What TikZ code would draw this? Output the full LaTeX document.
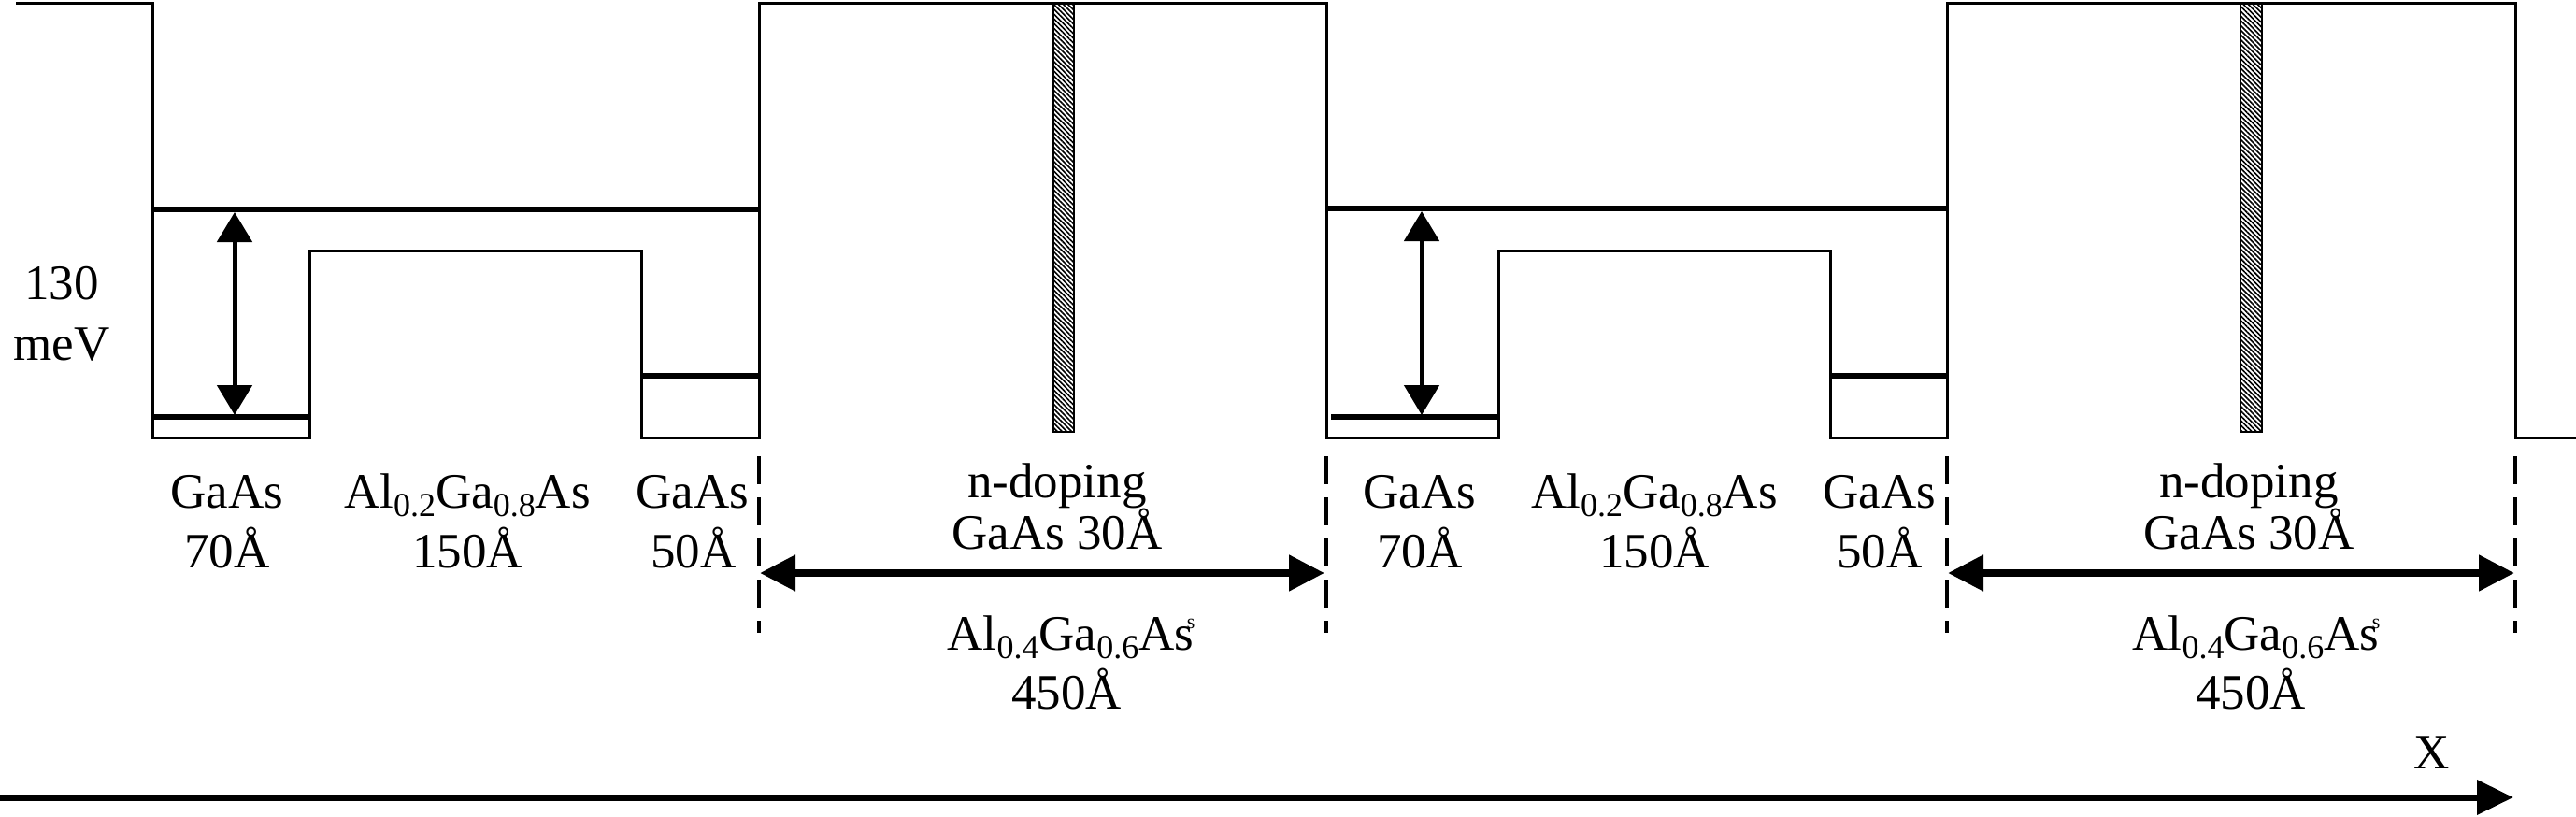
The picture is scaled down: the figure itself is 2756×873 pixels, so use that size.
\documentclass[tikz,border=0pt]{standalone}
\usepackage{fontspec}
\setmainfont{Liberation Serif}
\usetikzlibrary{arrows.meta,patterns.meta}
\newcommand{\sbs}[1]{\raisebox{-0.17em}{\fontsize{36}{36}\selectfont #1}}
\newcommand{\sps}{\kern-0.14em\raisebox{0.42em}{\fontsize{22}{22}\selectfont s}}
\begin{document}
\begin{tikzpicture}[x=1pt,y=-1pt,
  band/.style={line width=3pt, line join=miter},
  level/.style={line width=6.5pt},
  vdim/.style={line width=5pt,{Triangle[length=32pt,width=37pt]}-{Triangle[length=32pt,width=37pt]}},
  hdim/.style={line width=8pt,{Triangle[length=38pt,width=37pt]}-{Triangle[length=38pt,width=37pt]}},
  axis/.style={line width=7pt,-{Triangle[length=39pt,width=36pt]}},
  guide/.style={line width=4pt, dash pattern=on 30pt off 14pt},
  lbl/.style={font=\fontsize{53}{62}\selectfont, inner sep=0pt, anchor=base},
  dope/.style={draw, line width=2pt, pattern={Lines[angle=-45,distance=3.6pt,line width=1.6pt]}}
]
\useasboundingbox (0,0) rectangle (2756,873);

% conduction band profile
\draw[band] (17,3) -- (163.6,3) -- (163.6,468) -- (331,468) -- (331,268) -- (686,268)
  -- (686,468) -- (812,468) -- (812,3) -- (1419,3) -- (1419,468) -- (1603,468)
  -- (1603,268) -- (1958,268) -- (1958,468) -- (2083,468) -- (2083,3) -- (2691,3)
  -- (2691,468) -- (2756,468);

% delta doping layers
\draw[dope] (1127,3) rectangle (1149,462);
\draw[dope] (2397,3) rectangle (2420,462);

% subband levels
\draw[level] (163.6,224) -- (812,224);
\draw[level] (163.6,446) -- (331,446);
\draw[level] (686,402) -- (812,402);
\draw[level] (1419,223) -- (2083,223);
\draw[level] (1424,446) -- (1603,446);
\draw[level] (1958,402) -- (2083,402);

% 130 meV arrows
\coordinate (v1t) at (251,227);
\coordinate (v1b) at (251,444);
\coordinate (v2t) at (1521,226);
\coordinate (v2b) at (1521,444);
\draw[vdim] (v1t) -- (v1b);
\draw[vdim] (v2t) -- (v2b);

% dashed guides
\foreach \gx/\gn in {812/g1,1419/g2,2083/g3,2691/g4}{
  \coordinate (\gn t) at (\gx,488);
  \coordinate (\gn b) at (\gx,677);
  \draw[guide] (\gn t) -- (\gn b);
}

% barrier width arrows
\coordinate (h1l) at (813,613);
\coordinate (h1r) at (1417,613);
\coordinate (h2l) at (2084,613);
\coordinate (h2r) at (2690,613);
\draw[hdim] (h1l) -- (h1r);
\draw[hdim] (h2l) -- (h2r);

% x axis
\coordinate (ax0) at (0,853);
\coordinate (ax1) at (2689,853);
\draw[axis] (ax0) -- (ax1);
\node[lbl] (xl) at (2602,822) {X};

% energy label
\node[lbl] (e1) at (66,320) {130};
\node[lbl] (e2) at (66,385) {meV};

% period 1 labels
\node[lbl] (a1) at (243,543) {GaAs};
\node[lbl] (a2) at (243,607) {70Å};
\node[lbl] (b1) at (500,543) {Al\sbs{0.2}Ga\sbs{0.8}As};
\node[lbl] (b2) at (500,607) {150Å};
\node[lbl] (c1) at (741,543) {GaAs};
\node[lbl] (c2) at (742,607) {50Å};
\node[lbl] (d1) at (1131,532) {n-doping};
\node[lbl] (d2) at (1131,587) {GaAs 30Å};
\node[lbl] (f1) at (1146,695) {Al\sbs{0.4}Ga\sbs{0.6}As\sps};
\node[lbl] (f2) at (1141,758) {450Å};

% period 2 labels
\node[lbl] (a3) at (1519,543) {GaAs};
\node[lbl] (a4) at (1519,607) {70Å};
\node[lbl] (b3) at (1770,543) {Al\sbs{0.2}Ga\sbs{0.8}As};
\node[lbl] (b4) at (1770,607) {150Å};
\node[lbl] (c3) at (2011,543) {GaAs};
\node[lbl] (c4) at (2011,607) {50Å};
\node[lbl] (d3) at (2406,532) {n-doping};
\node[lbl] (d4) at (2406,587) {GaAs 30Å};
\node[lbl] (f3) at (2414,695) {Al\sbs{0.4}Ga\sbs{0.6}As\sps};
\node[lbl] (f4) at (2408,758) {450Å};
\end{tikzpicture}
\end{document}
